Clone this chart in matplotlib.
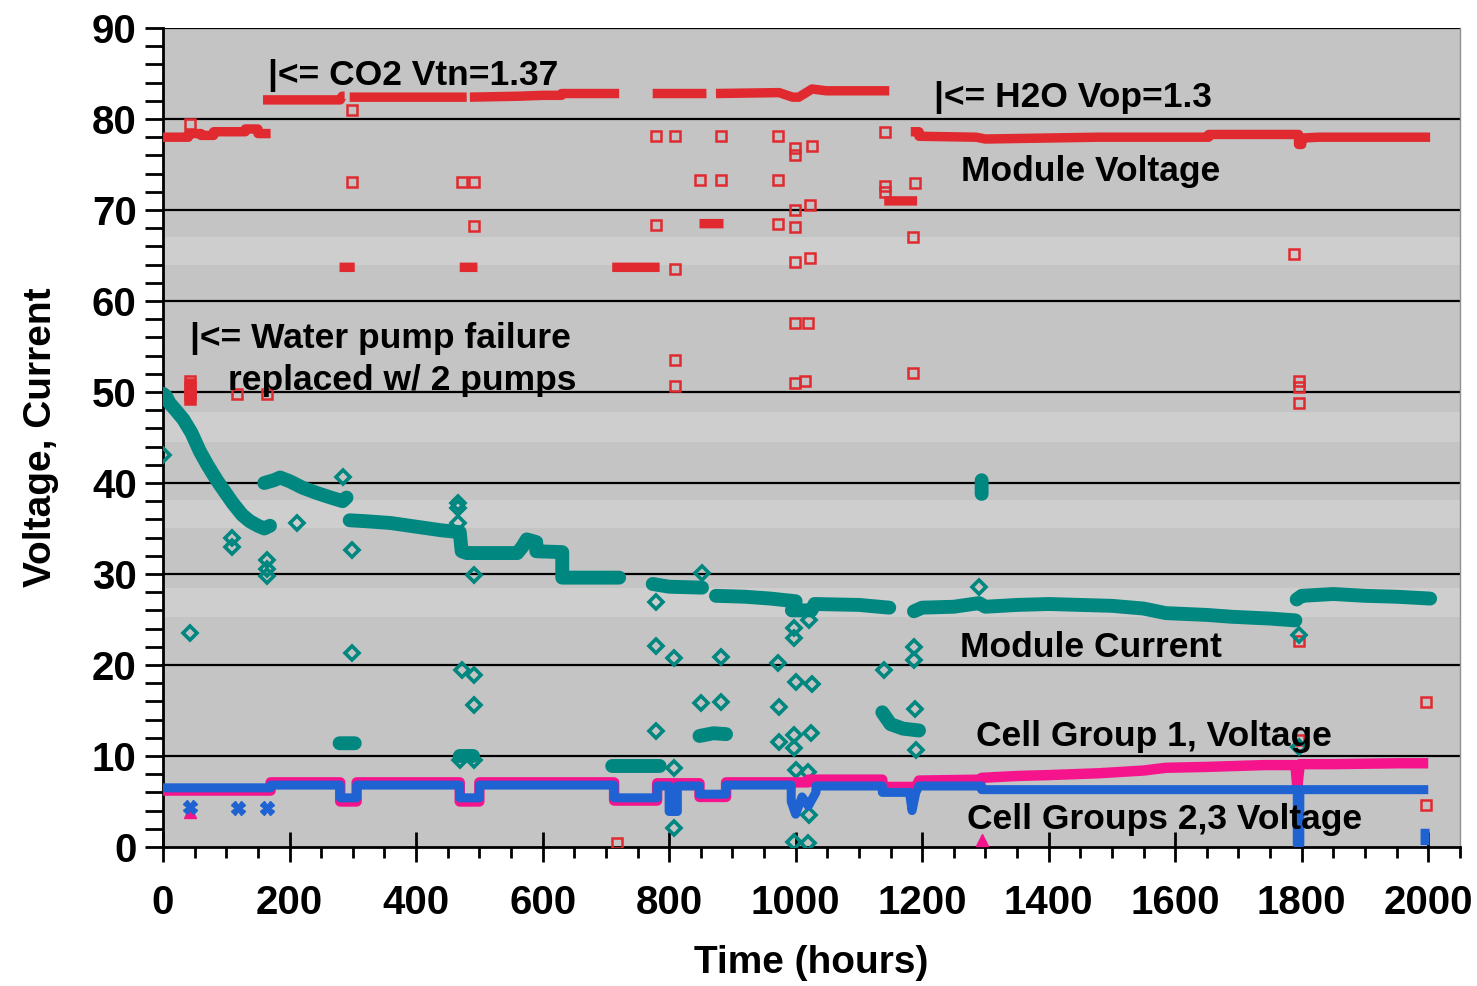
import numpy as np
import matplotlib
matplotlib.use("Agg")
import matplotlib.pyplot as plt
from matplotlib.ticker import MultipleLocator

nan = np.nan

# Module voltage (main trace, nan = gap)
volt_t = [0, 40, 40, 60, 60, 80, 80, 130, 130, 150, 150, 170, nan,
          158, 280, 283, 287, nan,
          295, 480, nan,
          485, 560, 600, 630, 630, 721, nan,
          774, 859, nan,
          874, 974, 995, 1005, 1026, 1048, 1148, nan,
          1140, 1192, nan,
          1182, 1195, 1195, 1285, 1300, 1479, 1653, 1653, 1795, 1795, 1800, 1800, 1826, 2003, nan,
          279, 303, nan, 469, 497, nan, 710, 785, nan, 848, 886, nan,
          43, 43]
volt_v = [78.0, 78.0, 78.4, 78.4, 78.2, 78.2, 78.6, 78.6, 78.9, 78.9, 78.4, 78.4, nan,
          82.1, 82.1, 82.5, 82.5, nan,
          82.4, 82.4, nan,
          82.4, 82.5, 82.6, 82.6, 82.8, 82.8, nan,
          82.8, 82.8, nan,
          82.8, 82.9, 82.4, 82.4, 83.3, 83.1, 83.1, nan,
          71.0, 71.0, nan,
          78.6, 78.6, 78.1, 78.0, 77.8, 78.0, 78.0, 78.3, 78.3, 77.2, 77.2, 77.9, 78.0, 78.0, nan,
          63.7, 63.7, nan, 63.7, 63.7, nan, 63.7, 63.7, nan, 68.5, 68.5, nan,
          48.6, 51.5]

# Module voltage stray points
volt_out_t = [43, 43, 43, 43, 43, 117, 164, 298, 298, 473, 491, 491, 780, 810, 780, 810, 810,
              810, 882, 849, 882, 972, 972, 972, 999, 999, 1026, 999, 1022, 999, 999, 1022,
              999, 1020, 999, 1015, 1141, 1141, 1141, 1189, 1185, 1185, 1788, 1796, 1796,
              1796, 1997, 1997, 1796, 1796, 717]
volt_out_v = [79.5, 51.2, 50.5, 49.8, 49.2, 49.8, 49.8, 81.0, 73.1, 73.1, 73.1, 68.2, 78.1, 78.1,
              68.3, 63.5, 53.5, 50.7, 78.1, 73.3, 73.3, 78.1, 73.3, 68.5, 76.8, 76.0, 77.0,
              70.0, 70.5, 68.1, 64.3, 64.7, 57.6, 57.6, 51.0, 51.2, 78.6, 72.6, 72.0, 73.0,
              67.0, 52.1, 65.2, 51.2, 50.5, 48.8, 15.9, 4.6, 22.6, 11.8, 0.4]

# Module current (main trace)
curr_t = [0, 5, 10, 20, 32, 45, 58, 70, 85, 100, 110, 125, 137, 150, 160, 169, nan,
          160, 175, 185, 200, 220, 243, 265, 284, 290, nan,
          295, 320, 360, 400, 440, 469, 472, 480, nan,
          485, 560, 568, 575, 590, 590, 631, 631, 721, nan,
          774, 800, 852, nan,
          874, 920, 960, 1000, nan,
          994, 1025, 1030, 1100, 1148, nan,
          1187, 1200, 1250, 1290, 1300, 1350, 1400, 1450, 1500, 1550, 1585, 1650, 1689, 1750, 1790, nan,
          1792, 1800, 1850, 1900, 1950, 2003, nan,
          279, 303, nan, 469, 490, nan, 710, 785, nan, 848, 870, 890, nan,
          1137, 1150, 1170, 1195, nan, 1294, 1294]
curr_v = [49.8, 49.5, 48.8, 48.0, 47.0, 45.5, 43.5, 42.0, 40.3, 38.8, 37.8, 36.5, 35.8, 35.3, 35.0, 35.3, nan,
          40.0, 40.3, 40.6, 40.2, 39.5, 38.9, 38.4, 38.0, 38.4, nan,
          35.9, 35.8, 35.6, 35.2, 34.8, 34.6, 32.5, 32.3, nan,
          32.3, 32.3, 33.0, 33.8, 33.5, 32.5, 32.4, 29.6, 29.6, nan,
          28.9, 28.6, 28.5, nan,
          27.6, 27.5, 27.3, 27.0, nan,
          26.0, 26.0, 26.7, 26.6, 26.3, nan,
          25.9, 26.3, 26.4, 26.8, 26.4, 26.6, 26.7, 26.6, 26.5, 26.2, 25.7, 25.5, 25.3, 25.1, 24.9, nan,
          27.2, 27.6, 27.8, 27.6, 27.5, 27.3, nan,
          11.4, 11.4, nan, 10.0, 10.0, nan, 8.9, 8.9, nan, 12.2, 12.5, 12.4, nan,
          14.8, 13.5, 13.0, 12.8, nan, 40.3, 38.8]

# Module current stray points
curr_out_t = [0, 43, 109, 109, 164, 164, 164, 211, 284, 298, 298, 466, 466, 466, 473, 491, 491,
              492, 780, 852, 780, 808, 882, 972, 998, 998, 1000, 1026, 851, 882, 974, 780, 974,
              998, 998, 1024, 1140, 1187, 1187, 1189, 1190, 808, 1000, 1020, 808, 1021, 998,
              1019, 1021, 1290, 1795, 1795, 469, 491]
curr_out_v = [43.1, 23.5, 34.0, 33.0, 31.5, 30.5, 29.8, 35.6, 40.7, 32.6, 21.3, 37.8, 37.3, 35.6,
              19.5, 18.9, 15.6, 29.9, 26.9, 30.1, 22.1, 20.8, 20.9, 20.2, 24.1, 23.0, 18.1, 17.9,
              15.8, 15.9, 15.4, 12.7, 11.5, 12.3, 10.9, 12.5, 19.5, 22.0, 20.5, 15.2, 10.7, 8.7,
              8.5, 8.2, 2.1, 3.5, 0.5, 0.4, 24.9, 28.6, 23.3, 11.0, 9.6, 9.6]

# Cell group 1 voltage
cg1_t = [0, 170, 170, 280, 280, 306, 306, 469, 469, 500, 500, 713, 713, 781, 781, 848, 848, 890,
         890, 1020, 1020, 1137, 1137, 1190, 1195, 1294, 1294, 1350, 1400, 1479, 1550, 1585, 1650,
         1742, 1790, 1793, 1797, 1850, 1953, 2000]
cg1_v = [6.2, 6.2, 7.1, 7.1, 5.0, 5.0, 7.1, 7.1, 5.0, 5.0, 7.1, 7.1, 5.1, 5.1, 7.0, 7.0, 5.5, 5.5,
         7.1, 7.1, 7.4, 7.4, 6.6, 6.6, 7.3, 7.4, 7.6, 7.8, 7.9, 8.1, 8.4, 8.7, 8.8,
         9.0, 9.0, 6.6, 9.1, 9.1, 9.2, 9.2]
cg1_out_t = [43, 1294]
cg1_out_v = [3.8, 0.8]

# Cell groups 2,3 voltage
cg23_t = [0, 170, 170, 280, 280, 306, 306, 469, 469, 500, 500, 713, 713, 781, 781, 800, 800, 813,
          813, 848, 848, 890, 890, 993, 993, 1000, 1010, 1020, 1032, 1032, 1137, 1137, 1180, 1184,
          1190, 1195, 1294, 1294, 1793, 1793, 1797, 1797, 2000, nan, 1995, 1995]
cg23_v = [6.5, 6.5, 6.8, 6.8, 5.4, 5.4, 6.8, 6.8, 5.4, 5.4, 6.8, 6.8, 5.4, 5.4, 6.7, 6.7, 3.9, 3.9,
          6.7, 6.7, 5.8, 5.8, 6.8, 6.8, 5.0, 3.6, 5.5, 4.5, 6.0, 6.7, 6.7, 6.0, 6.0, 4.0,
          6.0, 6.7, 6.7, 6.3, 6.3, 0.3, 0.3, 6.3, 6.3, nan, 0.2, 2.0]
cg23_out_t = [43, 118, 164]
cg23_out_v = [4.4, 4.3, 4.3]

RED = "#e12a2f"
TEAL = "#00877f"
PINK = "#f5148c"
BLUE = "#1f63d3"

plt.rcParams["font.family"] = ["Liberation Sans", "DejaVu Sans"]
plt.rcParams["font.weight"] = "bold"

fig = plt.figure(figsize=(14.77, 9.86), dpi=100)
ax = fig.add_axes([0.1104, 0.141, 0.878, 0.8306])
ax.set_facecolor("#c4c4c4")
for lo, hi in [(64, 67), (44.5, 47.8), (35, 38.1), (25.3, 28.5)]:
    ax.axhspan(lo, hi, color="#cecece", lw=0, zorder=0)
for y in range(10, 100, 10):
    ax.axhline(y, color="black", lw=1.6, zorder=1)

ax.plot(volt_t, volt_v, color=RED, lw=6.8, solid_capstyle="butt", zorder=3)
ax.plot(volt_out_t, volt_out_v, ls="none", marker="s", ms=6.5, mfc="none", mec=RED, mew=1.8, zorder=3)

ax.plot(curr_t, curr_v, color=TEAL, lw=10, solid_capstyle="round", zorder=4)
ax.plot(curr_out_t, curr_out_v, ls="none", marker="D", ms=7, mfc="none", mec=TEAL, mew=2.6, zorder=4)

ax.plot(cg1_t, cg1_v, color=PINK, lw=7.5, solid_capstyle="butt", zorder=5)
ax.plot(cg1_out_t, cg1_out_v, ls="none", marker="^", ms=9, color=PINK, zorder=5)
ax.plot(cg23_t, cg23_v, color=BLUE, lw=6.5, solid_capstyle="butt", zorder=6)
ax.plot(cg23_out_t, cg23_out_v, ls="none", marker="X", ms=10, color=BLUE, zorder=6)

ax.set_xlim(0, 2050)
ax.set_ylim(0, 90)
ax.xaxis.set_major_locator(MultipleLocator(200))
ax.xaxis.set_minor_locator(MultipleLocator(50))
ax.yaxis.set_major_locator(MultipleLocator(10))
ax.yaxis.set_minor_locator(MultipleLocator(2))
ax.tick_params(axis="x", which="major", direction="inout", length=22, width=2, labelsize=29, pad=16)
ax.tick_params(axis="x", which="minor", direction="out", length=8, width=2)
ax.tick_params(axis="y", which="both", direction="out", length=13, width=2, labelsize=29, pad=6)
for lab in ax.get_xticklabels() + ax.get_yticklabels():
    lab.set_fontweight("bold")
for s in ["left", "bottom"]:
    ax.spines[s].set_linewidth(2)
ax.spines["top"].set_visible(False)
ax.spines["right"].set_color("#909090")
ax.spines["right"].set_linewidth(1)

ax.set_xlabel("Time (hours)", fontsize=28, fontweight="bold", labelpad=16)
ax.set_ylabel("Voltage, Current", fontsize=28, fontweight="bold", labelpad=24)

tk = dict(fontsize=25.5, fontweight="bold", va="center", ha="left", zorder=7)
ax.text(166, 84.8, "|<= CO2 Vtn=1.37", **tk)
ax.text(1219, 82.4, "|<= H2O Vop=1.3", **tk)
ax.text(1261, 74.2, "Module Voltage", **tk)
ax.text(43, 55.9, "|<= Water pump failure", **tk)
ax.text(103, 51.3, "replaced w/ 2 pumps", **tk)
ax.text(1260, 21.9, "Module Current", **tk)
ax.text(1285, 12.1, "Cell Group 1, Voltage", **tk)
ax.text(1271, 3.0, "Cell Groups 2,3 Voltage", **tk)

fig.savefig("out.png", dpi=100)
